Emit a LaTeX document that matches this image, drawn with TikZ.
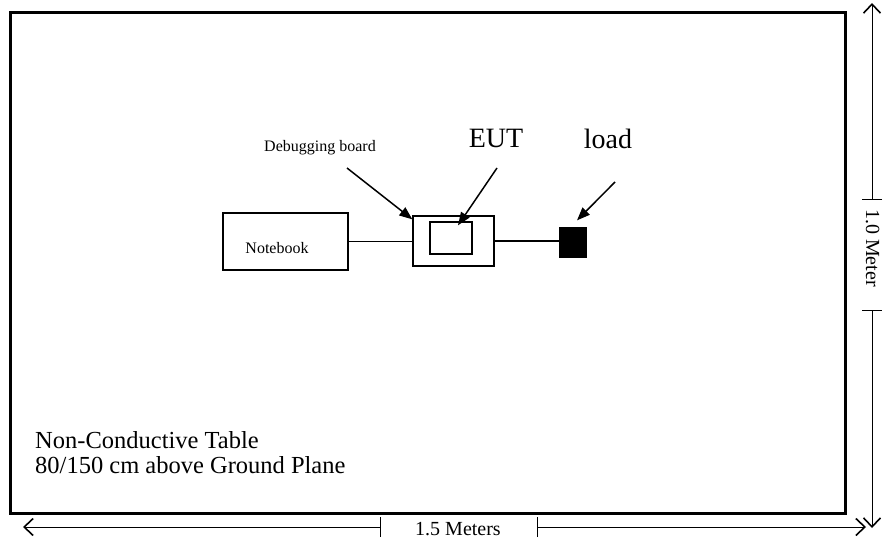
\documentclass[tikz,border=0pt]{standalone}
\usepackage{fontspec}
\setmainfont{Liberation Serif}
\usetikzlibrary{arrows.meta}
\usetikzlibrary{calc}

\tikzset{
  box/.style={draw, line width=1.3pt, inner sep=0pt},
  pointer/.style={line width=1.5pt, -{Triangle[length=13pt,width=10pt]}},
  measure/.style={line width=1pt},
  smalltext/.style={font=\fontsize{16}{18}\selectfont, inner sep=0pt},
  measuretext/.style={font=\fontsize{20}{22}\selectfont, inner sep=0pt},
  bigtext/.style={font=\fontsize{28}{30}\selectfont, inner sep=0pt},
  tabletext/.style={font=\fontsize{24.5}{26}\selectfont, inner sep=0pt},
  barb/.tip={Straight Barb[length=9pt,width=17pt,line width=1.6pt]},
  tick/.tip={Bar[width=20pt]},
}

\begin{document}
\begin{tikzpicture}[x=1pt,y=-1pt]
    \useasboundingbox (0,0) rectangle (883,544);
    \draw[line width=3pt] (10,12) rectangle (845,513);
    \node[box, minimum width=125pt, minimum height=57pt] (notebook) at (285.5,241.5) {};
    \node[smalltext, anchor=base] (notebooklabel) at (277,253) {Notebook};
    \node[box, minimum width=81pt, minimum height=50pt] (board) at (453.5,241) {};
    \node[box, minimum width=42pt, minimum height=32pt] (eut) at (451,238) {};
    \node[box, fill=black, minimum width=26pt, minimum height=29pt] (load) at (573,242.5) {};
    \draw[line width=1.3pt] (notebook.east) -- (notebook.east -| board.west);
    \draw[line width=1.3pt] (board.east) -- (board.east -| load.west);
    \node[smalltext, anchor=base] (debuglabel) at (320,151) {Debugging board};
    \node[bigtext, anchor=base] (eutlabel) at (496,147) {EUT};
    \node[bigtext, anchor=base] (loadlabel) at (608,148) {load};
    \coordinate (debugtail) at (347,168);
    \coordinate (euttail) at (497,168);
    \coordinate (loadtail) at (615,182);
    \draw[pointer] (debugtail) -- ([shift={(0,4)}]board.north west);
    \draw[pointer] (euttail) -- ([shift={(7,4)}]eut.north);
    \draw[pointer] (loadtail) -- ([shift={(4,-7)}]load.north);
    \node[tabletext, anchor=base west] (tablelabel) at (35,448) {Non-Conductive Table};
    \node[tabletext, anchor=base west] (planelabel) at (35,473) {80/150 cm above Ground Plane};
    \node[measuretext] (widthlabel) at (458,529) {1.5 Meters};
    \coordinate (widthleft) at (23,527);
    \coordinate (widthright) at (866,527);
    \draw[measure, barb-tick] (widthleft) -- (381,527);
    \draw[measure, tick-barb] (537,527) -- (widthright);
    \node[measuretext, rotate=-90, anchor=base] (heightlabel) at (866,248) {1.0 Meter};
    \coordinate (heighttop) at (872,3);
    \coordinate (heightbottom) at (872,528);
    \draw[measure, barb-tick] (heighttop) -- (872,200);
    \draw[measure, tick-barb] (872,310) -- (heightbottom);
  \end{tikzpicture}
\end{document}
